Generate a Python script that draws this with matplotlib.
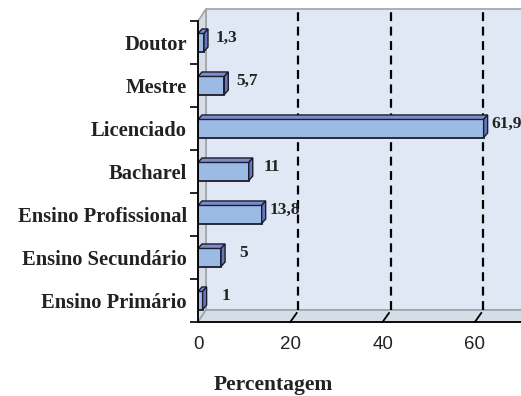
import matplotlib
matplotlib.use("Agg")
import matplotlib.pyplot as plt
from matplotlib.patches import Polygon
from matplotlib import transforms

categories = ["Ensino Primário", "Ensino Secundário", "Ensino Profissional",
              "Bacharel", "Licenciado", "Mestre", "Doutor"]
values = [1, 5, 13.8, 11, 61.9, 5.7, 1.3]
value_labels = ["1", "5", "13,8", "11", "61,9", "5,7", "1,3"]
xticks = [0, 20, 40, 60]
xlabel = "Percentagem"

W, H = 521, 396
fig = plt.figure(figsize=(W / 100, H / 100), dpi=100)
fig.patch.set_facecolor("white")

x0, x1, y0, y1 = 198, 521, 21, 322  # axes in pixel coords (top-left origin)
ax = fig.add_axes([x0 / W, 1 - y1 / H, (x1 - x0) / W, (y1 - y0) / H])
ax.set_facecolor("none")
ax.set_xlim(0, 70)
ax.set_ylim(-0.5, len(categories) - 0.5)

# 3D depth of the chart walls (pixels)
DX, DY = 8, 12
dxa, dya = DX / (x1 - x0), DY / (y1 - y0)

wall_col = "#dfe8f4"
floor_col = "#d5dde7"
edge_col = "#a0a4a8"
# back wall
ax.add_patch(Polygon([(dxa, dya), (1 + dxa, dya), (1 + dxa, 1 + dya), (dxa, 1 + dya)],
                     closed=True, transform=ax.transAxes, facecolor=wall_col,
                     edgecolor=edge_col, lw=1.2, clip_on=False, zorder=0))
# left wall
ax.add_patch(Polygon([(0, 0), (dxa, dya), (dxa, 1 + dya), (0, 1)],
                     closed=True, transform=ax.transAxes, facecolor=floor_col,
                     edgecolor=edge_col, lw=1.2, clip_on=False, zorder=0.5))
# floor
ax.add_patch(Polygon([(0, 0), (1 + dxa, 0), (1 + dxa, dya), (dxa, dya)],
                     closed=True, transform=ax.transAxes, facecolor=floor_col,
                     edgecolor=edge_col, lw=1.2, clip_on=False, zorder=0.5))

# gridlines on the back wall
grid_tr = transforms.offset_copy(ax.get_xaxis_transform(), fig=fig, x=DX, y=DY, units="dots")
for xt in xticks[1:]:
    ax.plot([xt, xt], [0, 1], transform=grid_tr, color="black", lw=1.6,
            linestyle=(0, (4, 2.5)), clip_on=False, zorder=1)
# slanted tick marks on floor
for xt in xticks[1:]:
    ax.plot([xt, xt + 0.8 * DX / ((x1 - x0) / 70)], [0, 0.75 * dya],
            transform=ax.get_xaxis_transform(), color="black", lw=1.3,
            clip_on=False, zorder=1)

# bars with 3D look
ypos = list(range(len(categories)))
bh = 0.42
ddx = 4 / ((x1 - x0) / 70)
ddy = 4.5 / ((y1 - y0) / len(categories))
face = "#9bbbe4"
top = "#7d8ccf"
side = "#6677c0"
ec = "#1c1c2a"
bars = ax.barh(ypos, values, height=bh, color=face, edgecolor=ec, lw=1.3, zorder=3)
for y, v in zip(ypos, values):
    ax.add_patch(Polygon([(0, y + bh / 2), (v, y + bh / 2), (v + ddx, y + bh / 2 + ddy),
                          (ddx, y + bh / 2 + ddy)], closed=True, facecolor=top,
                         edgecolor=ec, lw=1.0, zorder=3))
    ax.add_patch(Polygon([(v, y - bh / 2), (v + ddx, y - bh / 2 + ddy),
                          (v + ddx, y + bh / 2 + ddy), (v, y + bh / 2)], closed=True,
                         facecolor=side, edgecolor=ec, lw=1.0, zorder=3))
for y, v, lab in zip(ypos, values, value_labels):
    ax.annotate(lab, xy=(v, y), xytext=(16.5, 3), textcoords="offset points",
                ha="center", va="center", fontsize=12.5, fontweight="bold",
                family="Liberation Serif", color="#222222", annotation_clip=False,
                zorder=4)

# axes styling
for s in ["top", "right"]:
    ax.spines[s].set_visible(False)
for s in ["left", "bottom"]:
    ax.spines[s].set_color("black")
    ax.spines[s].set_linewidth(1.3)
    ax.spines[s].set_zorder(5)
ax.set_yticks(ypos)
ax.set_yticklabels(categories, fontsize=14.8, fontweight="bold", family="Liberation Serif",
                   color="#222222")
ax.set_yticks([y - 0.5 for y in range(len(categories) + 1)], minor=True)
ax.tick_params(axis="y", which="major", length=0, pad=8)
ax.tick_params(axis="y", which="minor", length=6, width=1.2, color="black", direction="out")
ax.set_xticks(xticks)
ax.set_xticklabels([str(t) for t in xticks], fontsize=13.5, family="Liberation Sans",
                   color="#222222")
ax.tick_params(axis="x", length=0, pad=10)

fig.text(273 / W, 1 - 385 / H, xlabel, ha="center", va="center", fontsize=15.5,
         fontweight="bold", family="Liberation Serif", color="#222222")

fig.savefig("out.png", dpi=100)
